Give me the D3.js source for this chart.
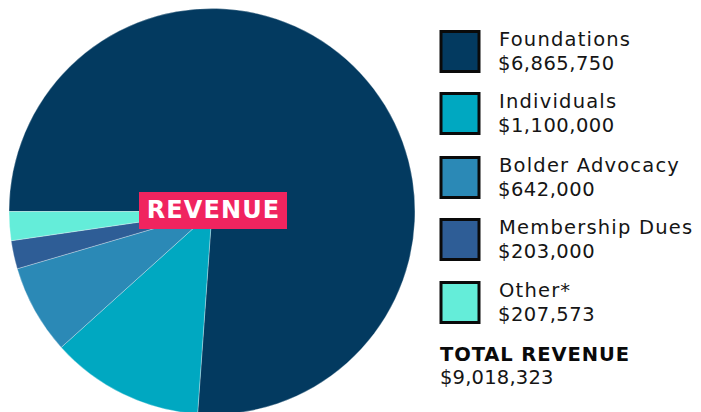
<!DOCTYPE html>
<html>
<head>
<meta charset="utf-8">
<script src="https://cdn.jsdelivr.net/npm/d3@7"></script>
<style>
  html, body { margin: 0; padding: 0; background: #fff; }
  svg { display: block; }
</style>
</head>
<body>
<svg id="chart" width="701" height="412"></svg>
<script>
const categories = ["Foundations", "Individuals", "Bolder Advocacy", "Membership Dues", "Other*"];
const values = [6865750, 1100000, 642000, 203000, 207573];
const valueLabels = ["$6,865,750", "$1,100,000", "$642,000", "$203,000", "$207,573"];
const colors = ["#033a60", "#00a8c1", "#2b89b6", "#2e5d96", "#64edd9"];
const centerLabel = "REVENUE";
const totalTitle = "TOTAL REVENUE";
const totalLabel = "$9,018,323";

const svg = d3.select("#chart");
const font = "'DejaVu Sans', sans-serif";

const cx = 212, cy = 211.5, r = 203;
const pie = d3.pie().sort(null).value(d => d).startAngle(-Math.PI / 2).endAngle(3 * Math.PI / 2);
const arc = d3.arc().innerRadius(0).outerRadius(r);

const g = svg.append("g").attr("transform", `translate(${cx},${cy})`);
g.selectAll("path")
  .data(pie(values))
  .join("path")
  .attr("d", arc)
  .attr("fill", (d, i) => colors[i])
  .attr("stroke", "#ffffff")
  .attr("stroke-width", 0.5)
  .attr("stroke-opacity", 0.6);

// center label box
const box = svg.append("g");
box.append("rect")
  .attr("x", 139).attr("y", 192).attr("width", 148).attr("height", 37)
  .attr("fill", "#f0245f");
box.append("text")
  .attr("x", 213.5).attr("y", 218)
  .attr("text-anchor", "middle")
  .attr("font-family", font).attr("font-weight", 700)
  .attr("font-size", 24).attr("letter-spacing", 1.1)
  .attr("fill", "#ffffff")
  .text(centerLabel);

// legend
const legTop = [30, 92, 156, 218, 281];
const leg = svg.append("g");
categories.forEach((c, i) => {
  const y0 = legTop[i];
  leg.append("rect")
    .attr("x", 441).attr("y", y0 + 1.5).attr("width", 38).attr("height", 40)
    .attr("fill", colors[i]).attr("stroke", "#0a0a0a").attr("stroke-width", 3);
  leg.append("text")
    .attr("x", 499).attr("y", y0 + 16)
    .attr("font-family", font).attr("font-size", 19.5).attr("letter-spacing", 1.2)
    .attr("fill", "#151515")
    .text(c);
  leg.append("text")
    .attr("x", 498).attr("y", y0 + 40)
    .attr("font-family", font).attr("font-size", 19.5).attr("letter-spacing", 0.5)
    .attr("fill", "#151515")
    .text(valueLabels[i]);
});

svg.append("text")
  .attr("x", 440).attr("y", 360.5)
  .attr("font-family", font).attr("font-weight", 700).attr("font-size", 19.5)
  .attr("letter-spacing", 0.9)
  .attr("fill", "#0a0a0a")
  .text(totalTitle);
svg.append("text")
  .attr("x", 440).attr("y", 384)
  .attr("font-family", font).attr("font-size", 19.5).attr("letter-spacing", 0.2)
  .attr("fill", "#151515")
  .text(totalLabel);
</script>
</body>
</html>
